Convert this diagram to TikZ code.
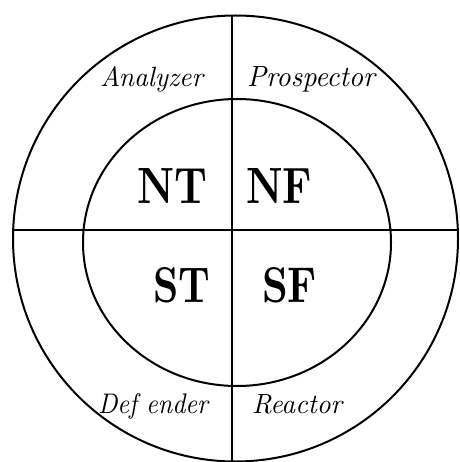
\documentclass[tikz,border=0pt]{standalone}
\usepackage{graphicx}
\tikzset{
  ring/.style={draw=black, line width=2pt},
  axis/.style={draw=black, line width=2pt},
  role/.style={anchor=base west, inner sep=0pt, outer sep=0pt},
  pair/.style={anchor=base west, inner sep=0pt, outer sep=0pt},
}
\newcommand{\rolelabel}[3]{\resizebox{#1}{#2}{\itshape #3}}
\newcommand{\pairlabel}[3]{\resizebox{#1}{#2}{\bfseries #3}}
\begin{document}
\begin{tikzpicture}[x=1pt,y=-1pt]
  \useasboundingbox (0,0) rectangle (459,462);
  % circles
  \draw[ring] (235.5,238.5) ellipse [x radius=222.5, y radius=223];
  \draw[ring] (237,242.5) ellipse [x radius=154, y radius=143.5];
  % axes
  \coordinate (hl) at (13,230);
  \coordinate (hr) at (459,230);
  \coordinate (vt) at (231.5,16);
  \coordinate (vb) at (231.5,462);
  \draw[axis] (hl) -- (hr);
  \draw[axis] (vt) -- (vb);
  % outer labels
  \node[role] (an) at (100,87) {\rolelabel{103pt}{20pt}{Analyzer}};
  \node[role] (pr) at (247,87) {\rolelabel{128pt}{20pt}{Prospector}};
  \node[role] (de) at (98,413) {\rolelabel{110pt}{20pt}{Def ender}};
  \node[role] (re) at (252,413) {\rolelabel{90pt}{19pt}{Reactor}};
  % inner labels
  \node[pair] (nt) at (137,203) {\pairlabel{70pt}{35pt}{NT}};
  \node[pair] (nf) at (246,203) {\pairlabel{66pt}{35pt}{NF}};
  \node[pair] (st) at (153,302) {\pairlabel{57pt}{35pt}{ST}};
  \node[pair] (sf) at (262,302) {\pairlabel{55pt}{35pt}{SF}};
\end{tikzpicture}
\end{document}
